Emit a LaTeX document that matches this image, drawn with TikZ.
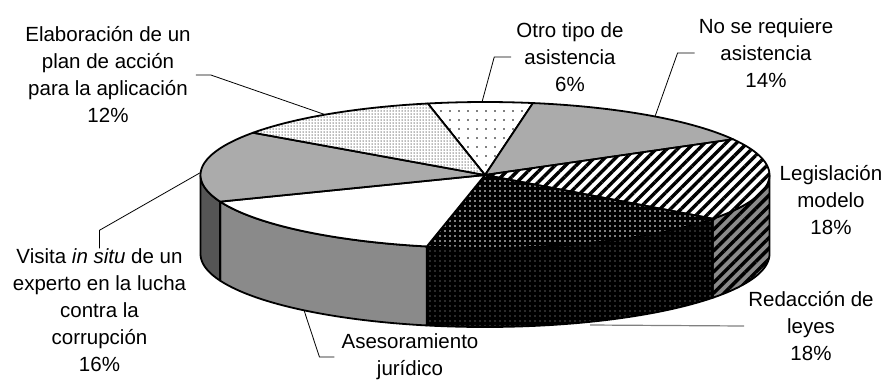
\documentclass[tikz,border=0pt]{standalone}
\usepackage{fontspec}
\setmainfont{Liberation Sans}
\usetikzlibrary{patterns.meta}
\definecolor{ltgray}{HTML}{ABABAB}
\definecolor{midgray}{HTML}{8A8A8A}
\definecolor{dkgray}{HTML}{555555}
\definecolor{leadgray}{HTML}{808080}
\begin{document}
\begin{tikzpicture}[x=1pt,y=-1pt,
  lbl/.style={font=\fontsize{20.5}{27}\selectfont, align=center, inner sep=0pt},
  lead/.style={line width=0.8pt},
  rim/.style={draw=black, line width=1.8pt, line join=round},
  stripes/.style={postaction={pattern={Lines[angle=45,distance=7.5pt,line width=3.4pt]}, pattern color=black}},
  sparsedots/.style={postaction={pattern={Dots[radius=0.9pt,distance=9pt]}, pattern color=black}},
  finedots/.style={postaction={pattern={Dots[radius=0.75pt,distance=3pt]}, pattern color=black!55}},
  whitedots/.style={postaction={pattern={Dots[radius=0.8pt,distance=5pt]}, pattern color=white}},
  greydots/.style={postaction={pattern={Dots[radius=0.8pt,distance=5pt]}, pattern color=dkgray}},
]
\def\cx{485}\def\cy{175}\def\rx{284.5}\def\ry{73}\def\cyb{254}
\useasboundingbox (0,0) rectangle (886,381);

% ---- sides (front half) ----
\path[fill=midgray, stripes, postaction={rim}]
  plot[domain=90:126.8,samples=30] ({\cx+\rx*sin(\x)},{\cy-\ry*cos(\x)})
  -- plot[domain=126.8:90,samples=30] ({\cx+\rx*sin(\x)},{\cyb-\ry*cos(\x)}) -- cycle;
\path[fill=black, greydots, postaction={rim}]
  plot[domain=126.8:191.8,samples=40] ({\cx+\rx*sin(\x)},{\cy-\ry*cos(\x)})
  -- plot[domain=191.8:126.8,samples=40] ({\cx+\rx*sin(\x)},{\cyb-\ry*cos(\x)}) -- cycle;
\path[fill=midgray, postaction={rim}]
  plot[domain=191.8:248.6,samples=40] ({\cx+\rx*sin(\x)},{\cy-\ry*cos(\x)})
  -- plot[domain=248.6:191.8,samples=40] ({\cx+\rx*sin(\x)},{\cyb-\ry*cos(\x)}) -- cycle;
\path[fill=dkgray, postaction={rim}]
  plot[domain=248.6:270,samples=20] ({\cx+\rx*sin(\x)},{\cy-\ry*cos(\x)})
  -- plot[domain=270:248.6,samples=20] ({\cx+\rx*sin(\x)},{\cyb-\ry*cos(\x)}) -- cycle;

% ---- top slices ----
\coordinate (c) at (\cx,\cy);
% Otro tipo de asistencia
\path[fill=white, sparsedots, postaction={rim}] (c)
  -- plot[domain=-11.6:9.7,samples=20] ({\cx+\rx*sin(\x)},{\cy-\ry*cos(\x)}) -- cycle;
% No se requiere asistencia
\path[fill=ltgray, postaction={rim}] (c)
  -- plot[domain=9.7:60.7,samples=40] ({\cx+\rx*sin(\x)},{\cy-\ry*cos(\x)}) -- cycle;
% Legislacion modelo
\path[fill=white, stripes, postaction={rim}] (c)
  -- plot[domain=60.7:126.8,samples=40] ({\cx+\rx*sin(\x)},{\cy-\ry*cos(\x)}) -- cycle;
% Redaccion de leyes
\path[fill=black, whitedots, postaction={rim}] (c)
  -- plot[domain=126.8:191.8,samples=40] ({\cx+\rx*sin(\x)},{\cy-\ry*cos(\x)}) -- cycle;
% Asesoramiento juridico
\path[fill=white, postaction={rim}] (c)
  -- plot[domain=191.8:248.6,samples=40] ({\cx+\rx*sin(\x)},{\cy-\ry*cos(\x)}) -- cycle;
% Visita in situ
\path[fill=ltgray, postaction={rim}] (c)
  -- plot[domain=248.6:305.4,samples=40] ({\cx+\rx*sin(\x)},{\cy-\ry*cos(\x)}) -- cycle;
% Elaboracion de un plan
\path[fill=white, finedots, postaction={rim}] (c)
  -- plot[domain=305.4:348.4,samples=30] ({\cx+\rx*sin(\x)},{\cy-\ry*cos(\x)}) -- cycle;

% ---- labels ----
\node[lbl] (lelab) at (108,75) {Elaboración de un\\plan de acción\\para la aplicación\\12\%};
\node[lbl] (lotro) at (570,57) {Otro tipo de\\asistencia\\6\%};
\node[lbl] (lno) at (766,53) {No se requiere\\asistencia\\14\%};
\node[lbl] (lleg) at (831,200) {Legislación\\modelo\\18\%};
\node[lbl] (lred) at (811,326) {Redacción de\\leyes\\18\%};
\node[lbl] (lvis) at (99.5,310) {Visita \textit{in situ} de un\\experto en la lucha\\contra la\\corrupción\\16\%};
\node[lbl] (lases) at (410,357) {Asesoramiento\\jurídico};

% ---- leader end points on the pie ----
\coordinate (eelab) at ({\cx+\rx*sin(325.8)},{\cy-\ry*cos(325.8)});
\coordinate (eotro) at ({\cx+\rx*sin(-0.6)},{\cy-\ry*cos(-0.6)});
\coordinate (eno) at ({\cx+\rx*sin(36.7)},{\cy-\ry*cos(36.7)});
\coordinate (evis) at ({\cx+\rx*sin(272)},{\cy-\ry*cos(272)});
\coordinate (eases) at ({\cx+\rx*sin(219.5)},{\cyb-\ry*cos(219.5)});
\coordinate (ered) at (590,325);

\draw[lead] ([xshift=5pt]lelab.east) -- ++(15,0) -- (eelab);
\draw[lead] ([xshift=-5pt]lotro.west) -- ++(-17,0) -- (eotro);
\draw[lead] ([xshift=-4pt]lno.west) -- ++(-17,0) -- (eno);
\draw[lead] (lvis.north) -- ++(0,-18) -- (evis);
\draw[lead] ([xshift=-7pt]lases.west) -- ++(-15,0) -- (eases);
\draw[lead, draw=leadgray, line width=1.2pt] ([xshift=-4pt]lred.west) -- (ered);
\end{tikzpicture}
\end{document}
